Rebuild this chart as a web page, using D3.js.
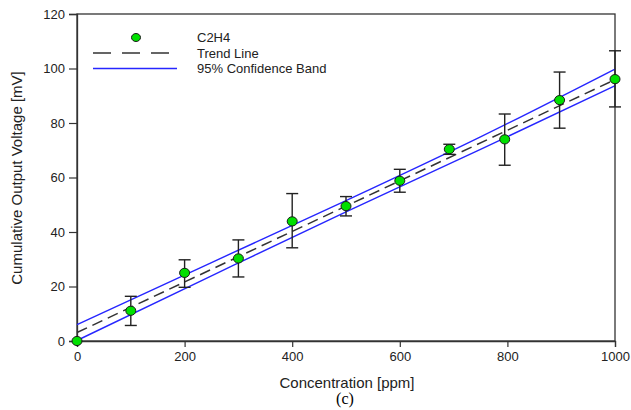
<!DOCTYPE html>
<html><head><meta charset="utf-8">
<script src="https://cdn.jsdelivr.net/npm/d3@7"></script>
<style>body{margin:0;background:#fff;} text{font-family:"Liberation Sans",Arial,sans-serif;}</style>
</head><body><svg id="c" width="631" height="410"></svg>
<script>
const conc = [0, 100, 200, 300, 400, 500, 600, 692, 795, 897, 1000];
const voltage = [0, 11.1, 25.0, 30.3, 43.9, 49.5, 58.8, 70.4, 74.0, 88.4, 96.1];
const errUp = [0, 5.3, 4.8, 6.8, 10.2, 3.5, 4.2, 1.8, 9.3, 10.3, 10.4];
const errDown = [0, 5.4, 5.3, 6.8, 9.7, 3.6, 4.2, 1.9, 9.5, 10.3, 10.2];
const trendX = [0, 1000];
const trendY = [3.1, 95.9];
const bandX = [0, 250, 500, 750, 1000];
const bandUpper = [6.0, 28.8, 51.5, 74.9, 99.8];
const bandLower = [0.2, 23.9, 47.4, 70.3, 93.7];
const xTicks = [0, 200, 400, 600, 800, 1000];
const yTicks = [0, 20, 40, 60, 80, 100, 120];
const legendLabels = ["C2H4", "Trend Line", "95% Confidence Band"];

const svg = d3.select("#c");
const L = 77, R = 615, T = 14, B = 341;
const x = d3.scaleLinear().domain([0, 1000]).range([L, R]);
const y = d3.scaleLinear().domain([0, 120]).range([B, T]);
const frame = "#333";

// frame
svg.append("rect").attr("x", L).attr("y", T).attr("width", R - L).attr("height", B - T)
  .attr("fill", "none").attr("stroke", frame).attr("stroke-width", 1.3);

// axes
const xa = svg.append("g").attr("transform", `translate(0,${B})`)
  .call(d3.axisBottom(x).tickValues(xTicks).tickFormat(d3.format("d")).tickSize(6).tickPadding(5));
const ya = svg.append("g").attr("transform", `translate(${L},0)`)
  .call(d3.axisLeft(y).tickValues(yTicks).tickFormat(d3.format("d")).tickSize(8).tickPadding(4));
[xa, ya].forEach(g => {
  g.select(".domain").attr("stroke", frame).attr("stroke-width", 1.3);
  g.selectAll(".tick line").attr("stroke", frame).attr("stroke-width", 1.2);
  g.selectAll(".tick text").attr("font-size", 13).attr("fill", "#222")
    .style("font-family", "'Liberation Sans', Arial, sans-serif");
});

// confidence band
const bandLine = d3.line().x(d => x(d[0])).y(d => y(d[1])).curve(d3.curveMonotoneX);
[bandUpper, bandLower].forEach(arr => {
  svg.append("path").datum(bandX.map((v, i) => [v, arr[i]]))
    .attr("d", bandLine).attr("fill", "none").attr("stroke", "#2626ff").attr("stroke-width", 1.4);
});
// trend line
svg.append("path").datum(trendX.map((v, i) => [v, trendY[i]]))
  .attr("d", d3.line().x(d => x(d[0])).y(d => y(d[1])))
  .attr("fill", "none").attr("stroke", "#333").attr("stroke-width", 1.5)
  .attr("stroke-dasharray", "11,6");

// error bars
const eb = svg.append("g").attr("stroke", "#222").attr("stroke-width", 1.4);
conc.forEach((c, i) => {
  if (errUp[i] === 0 && errDown[i] === 0) return;
  const cx = x(c), y1 = y(voltage[i] + errUp[i]), y2 = y(voltage[i] - errDown[i]);
  eb.append("line").attr("x1", cx).attr("x2", cx).attr("y1", y1).attr("y2", y2);
  eb.append("line").attr("x1", cx - 6).attr("x2", cx + 6).attr("y1", y1).attr("y2", y1);
  eb.append("line").attr("x1", cx - 6).attr("x2", cx + 6).attr("y1", y2).attr("y2", y2);
});

// points
svg.append("g").selectAll("ellipse").data(conc).join("ellipse")
  .attr("cx", (d) => x(d)).attr("cy", (d, i) => y(voltage[i]))
  .attr("rx", 5).attr("ry", 4.6)
  .attr("fill", "#00e000").attr("stroke", "#1a1a1a").attr("stroke-width", 1);

// legend
const lg = svg.append("g");
lg.append("ellipse").attr("cx", 136).attr("cy", 37.5).attr("rx", 4.5).attr("ry", 4)
  .attr("fill", "#00e000").attr("stroke", "#1a1a1a").attr("stroke-width", 1);
lg.append("line").attr("x1", 93).attr("x2", 169).attr("y1", 53).attr("y2", 53)
  .attr("stroke", "#333").attr("stroke-width", 1.5).attr("stroke-dasharray", "18,11");
lg.append("line").attr("x1", 93).attr("x2", 177).attr("y1", 68.5).attr("y2", 68.5)
  .attr("stroke", "#2626ff").attr("stroke-width", 1.4);
lg.selectAll("text").data(legendLabels).join("text")
  .attr("x", 197).attr("y", (d, i) => 42 + i * 15.5)
  .attr("font-size", 13).attr("fill", "#222").text(d => d);

// axis titles
svg.append("text").attr("x", 347).attr("y", 388).attr("text-anchor", "middle")
  .attr("font-size", 15).attr("fill", "#222").text("Concentration [ppm]");
svg.append("text").attr("transform", "translate(22,178) rotate(-90)").attr("text-anchor", "middle")
  .attr("font-size", 15).attr("fill", "#222").text("Cumulative Output Voltage [mV]");
svg.append("text").attr("x", 345).attr("y", 404).attr("text-anchor", "middle")
  .attr("font-size", 16).attr("fill", "#000").style("font-family", "'Liberation Serif', serif").text("(c)");
</script></body></html>
